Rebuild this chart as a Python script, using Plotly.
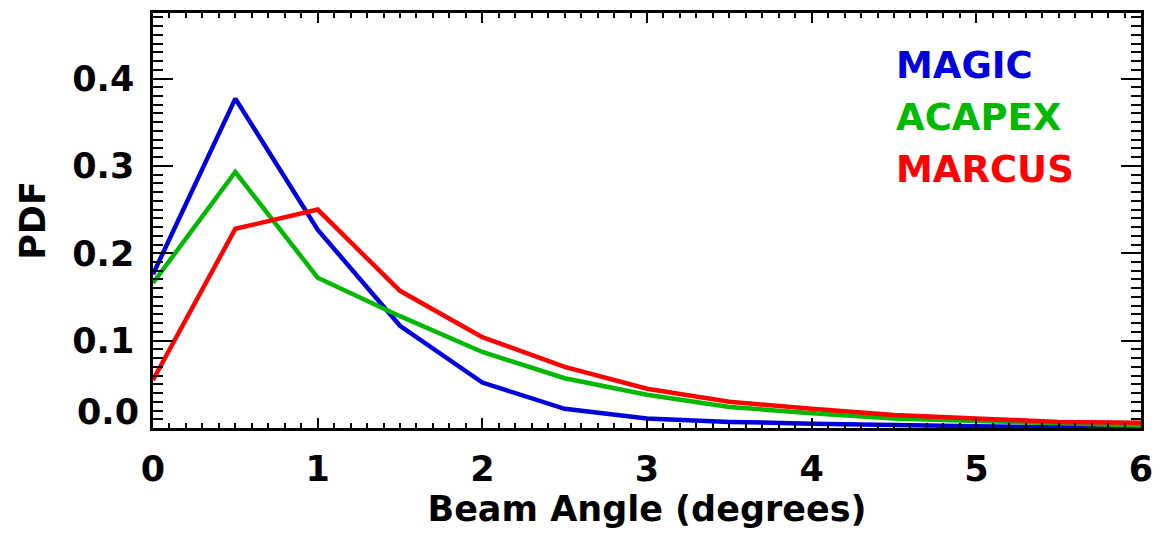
import plotly.graph_objects as go

# Beam angle bins (degrees)
beam_angle = [0.0, 0.5, 1.0, 1.5, 2.0, 2.5, 3.0, 3.5, 4.0, 4.5, 5.0, 5.5, 6.0]

# PDF of beam angle for each campaign
magic_pdf = [0.176, 0.377, 0.227, 0.117, 0.052, 0.022, 0.011, 0.007, 0.005, 0.003, 0.002, 0.001, 0.0005]
acapex_pdf = [0.166, 0.293, 0.172, 0.128, 0.087, 0.057, 0.038, 0.024, 0.017, 0.011, 0.008, 0.005, 0.003]
marcus_pdf = [0.055, 0.228, 0.250, 0.157, 0.104, 0.070, 0.045, 0.030, 0.022, 0.015, 0.011, 0.007, 0.006]

series_names = ["MAGIC", "ACAPEX", "MARCUS"]
series_colors = ["#0000dd", "#00b800", "#ff0000"]

x_ticks = [0, 1, 2, 3, 4, 5, 6]
y_ticks = [0.1, 0.2, 0.3, 0.4]
y_tick_labels = ["0.1", "0.2", "0.3", "0.4"]

FONT = "DejaVu Sans"

fig = go.Figure()
for name, ys, col in zip(series_names, [magic_pdf, acapex_pdf, marcus_pdf], series_colors):
    fig.add_trace(go.Scatter(x=beam_angle, y=ys, mode="lines", name=name,
                             line=dict(color=col, width=4.5), showlegend=False))

# Text legend in the upper right
for i, (name, col) in enumerate(zip(series_names, series_colors)):
    fig.add_annotation(x=0.75, y=0.874 - i * 0.125, xref="paper", yref="paper",
                       text=f"<b>{name}</b>", showarrow=False, xanchor="left", yanchor="middle",
                       font=dict(family=FONT, size=37, color=col))

# Lowest y label sits just above the bottom frame
fig.add_annotation(x=0, y=0.018, xref="paper", yref="y", xshift=-12,
                   text="<b>0.0</b>", showarrow=False, xanchor="right", yanchor="middle",
                   font=dict(family=FONT, size=35, color="black"))

axis_common = dict(showline=True, linecolor="black", linewidth=2.5, mirror="allticks",
                   ticks="inside", tickcolor="black", tickwidth=2, showgrid=False, zeroline=False,
                   tickfont=dict(family=FONT, size=35, color="black", weight="bold"))

fig.update_xaxes(range=[0, 6], tickvals=x_ticks, ticklen=10, ticklabelstandoff=8,
                 minor=dict(dtick=0.1, ticklen=5, tickwidth=1.5, tickcolor="black", ticks="inside", showgrid=False),
                 title=dict(text="Beam Angle (degrees)", standoff=8,
                            font=dict(family=FONT, size=35, color="black", weight="bold")),
                 **axis_common)
fig.update_yaxes(range=[0, 0.475], tickvals=y_ticks, ticktext=y_tick_labels, ticklen=20,
                 ticklabelstandoff=9,
                 minor=dict(dtick=0.01, tick0=0, ticklen=10, tickwidth=1.5, tickcolor="black", ticks="inside", showgrid=False),
                 title=dict(text="PDF", standoff=16,
                            font=dict(family=FONT, size=35, color="black", weight="bold")),
                 **axis_common)

fig.update_layout(width=1163, height=539, margin=dict(l=153, r=20, t=10, b=111),
                  plot_bgcolor="white", paper_bgcolor="white", showlegend=False)

fig.write_html("out.html")
